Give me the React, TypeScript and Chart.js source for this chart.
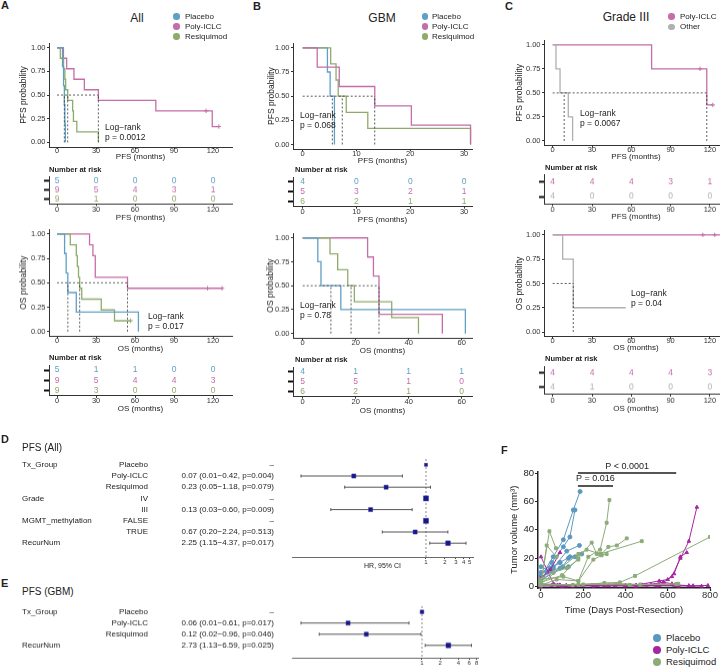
import React, { useEffect, useRef, useMemo } from "react";
import { Chart, registerables } from "chart.js";

Chart.register(...registerables);

const FONT = "'Liberation Sans', Arial, Helvetica, sans-serif";
const INK = "#222222";
const AXIS = "#333333";
const BLUE = "#5e9fc6";
const PINK = "#c46ea8";
const GREEN = "#8fab6b";
const GREY = "#b0b0b0";
const F_BLUE = "#5b98bf";
const F_PURPLE = "#a626a1";
const F_GREEN = "#8cab78";
const NAVY = "#17178a";

// ---------------- DATA: Kaplan–Meier ----------------
const GROUPS3 = ["Placebo", "Poly-ICLC", "Resiquimod"];
const GROUPS_C = ["Poly-ICLC", "Other"];
const TICKS_120 = [0, 30, 60, 90, 120];
const TICKS_B_PFS = [0, 10, 20, 30];
const TICKS_B_OS = [0, 20, 40, 60];
const PROB_TICKS = [0, 0.25, 0.5, 0.75, 1];

// A – PFS (All)
const A_PFS_PLA_T = [0, 4.2, 5.0, 5.6, 6.0, 6.4];
const A_PFS_PLA_S = [1, 0.8, 0.6, 0.4, 0.2, 0];
const A_PFS_POLY_T = [0, 4.9, 7.4, 13, 21, 31.8, 76, 119.4];
const A_PFS_POLY_S = [1, 0.889, 0.778, 0.667, 0.556, 0.444, 0.333, 0.167];
const A_PFS_POLY_CENS = [114.6, 124.5];
const A_PFS_RESI_T = [0, 2.5, 5, 6, 6.6, 8.2, 12, 12.6, 15.2, 31.8];
const A_PFS_RESI_S = [1, 0.889, 0.778, 0.667, 0.556, 0.444, 0.333, 0.222, 0.111, 0];
const A_PFS_MEDIANS = [5.6, 31.8, 8.2];
const A_PFS_RISK = [[5, 0, 0, 0, 0], [9, 5, 4, 3, 1], [9, 1, 0, 0, 0]];

// A – OS (All)
const A_OS_PLA_T = [0, 5.8, 7.0, 8.3, 14.8, 62.6];
const A_OS_PLA_S = [1, 0.8, 0.6, 0.4, 0.2, 0];
const A_OS_POLY_T = [0, 25, 27.6, 29.4, 54.2];
const A_OS_POLY_S = [1, 0.889, 0.778, 0.556, 0.444];
const A_OS_POLY_CENS = [115.8, 127];
const A_OS_RESI_T = [0, 10.2, 14.8, 15.6, 16.5, 17.4, 19, 34, 44.2];
const A_OS_RESI_S = [1, 0.889, 0.778, 0.667, 0.556, 0.444, 0.333, 0.222, 0.111];
const A_OS_RESI_CENS = [56.6];
const A_OS_MEDIANS = [8.3, 54.2, 17.4];
const A_OS_RISK = [[5, 1, 1, 0, 0], [9, 5, 4, 4, 3], [9, 3, 0, 0, 0]];

// B – PFS (GBM)
const B_PFS_PLA_T = [0, 4.6, 5.1, 5.9];
const B_PFS_PLA_S = [1, 0.75, 0.5, 0];
const B_PFS_POLY_T = [0, 2.7, 6.8, 13.4, 20.2, 31.2];
const B_PFS_POLY_S = [1, 0.8, 0.6, 0.4, 0.2, 0];
const B_PFS_RESI_T = [0, 5.2, 6.2, 6.6, 8.1, 12.1, 31.2];
const B_PFS_RESI_S = [1, 0.833, 0.667, 0.5, 0.333, 0.167, 0];
const B_PFS_MEDIANS = [5.5, 13.4, 7.35];
const B_PFS_RISK = [[4, 0, 0, 0], [5, 3, 2, 1], [6, 2, 1, 1]];

// B – OS (GBM)
const B_OS_PLA_T = [0, 5.7, 6.9, 14.4, 61.4];
const B_OS_PLA_S = [1, 0.75, 0.5, 0.25, 0];
const B_OS_POLY_T = [0, 24.5, 26.7, 28.8, 52.7];
const B_OS_POLY_S = [1, 0.8, 0.6, 0.2, 0];
const B_OS_RESI_T = [0, 10.3, 13.2, 17, 19.5, 33.6, 43.7];
const B_OS_RESI_S = [1, 0.833, 0.667, 0.5, 0.333, 0.167, 0];
const B_OS_MEDIANS = [10.65, 28.8, 18.25];
const B_OS_RISK = [[4, 1, 1, 1], [5, 5, 1, 0], [6, 2, 1, 0]];

// C – PFS (Grade III)
const C_PFS_POLY_T = [0, 75.5, 117.6];
const C_PFS_POLY_S = [1, 0.75, 0.375];
const C_PFS_POLY_CENS = [112.5, 122.2];
const C_PFS_OTHER_T = [0, 2.5, 5.6, 11.9, 15.2];
const C_PFS_OTHER_S = [1, 0.75, 0.5, 0.25, 0];
const C_PFS_MEDIANS = [117.6, 8.75];
const C_PFS_RISK = [[4, 4, 4, 3, 1], [4, 0, 0, 0, 0]];

// C – OS (Grade III)
const C_OS_POLY_T = [0];
const C_OS_POLY_S = [1];
const C_OS_POLY_CENS = [114.6, 123.7];
const C_OS_POLY_END = 131;
const C_OS_OTHER_T = [0, 7.6, 15.7];
const C_OS_OTHER_S = [1, 0.75, 0.25];
const C_OS_OTHER_END = 55.7;
const C_OS_MEDIANS = [15.7];
const C_OS_RISK = [[4, 4, 4, 4, 3], [4, 1, 0, 0, 0]];

// ---------------- DATA: forest plots ----------------
const D_VARS = ["Tx_Group", "", "", "Grade", "", "MGMT_methylation", "", "RecurNum"];
const D_LEVELS = ["Placebo", "Poly-ICLC", "Resiquimod", "IV", "III", "FALSE", "TRUE", ""];
const D_HR = [1, 0.07, 0.23, 1, 0.13, 1, 0.67, 2.25];
const D_LO = [null, 0.01, 0.05, null, 0.03, null, 0.2, 1.15];
const D_HI = [null, 0.42, 1.18, null, 0.6, null, 2.24, 4.37];
const D_P = [null, "0.004", "0.079", null, "0.009", null, "0.513", "0.017"];
const D_TICKS = [1, 2, 3, 4, 5];

const E_VARS = ["Tx_Group", "", "", "RecurNum"];
const E_LEVELS = ["Placebo", "Poly-ICLC", "Resiquimod", ""];
const E_HR = [1, 0.06, 0.12, 2.73];
const E_LO = [null, 0.01, 0.02, 1.13];
const E_HI = [null, 0.61, 0.96, 6.59];
const E_P = [null, "0.017", "0.046", "0.025"];
const E_TICKS = [1, 2, 4, 6, 8];

// ---------------- DATA: tumour volume (F) ----------------
const F_PLACEBO_DAYS = [
  [0, 58, 106, 153, 185],
  [0, 51, 106, 137, 161],
  [0, 58, 122, 182],
  [0, 43, 90, 137, 193],
  [0, 58, 103, 130, 161],
  [0, 43, 90, 130],
  [0, 27, 58, 90],
];
const F_PLACEBO_VOL = [
  [7, 21, 33, 54, 67],
  [8, 17, 28, 35, 54],
  [10, 13, 25, 29],
  [5, 13, 17, 21, 23],
  [4, 10, 14, 20, 21],
  [14, 11, 13, 14],
  [2, 10, 14, 17],
];
const F_POLY_DAYS = [
  [0, 120, 260, 400, 520, 580, 620, 660, 700, 738],
  [0, 150, 300, 450, 560, 600, 630, 660, 690],
  [0, 100, 250, 400, 500, 580, 620, 650],
  [0, 45, 90],
  [0, 60, 120, 200],
  [0, 80, 160, 240, 320, 400, 480, 560, 640, 720, 790],
  [0, 90, 180, 270, 360, 450, 540, 630, 700],
  [0, 50, 150, 250, 350, 450, 550, 650, 760],
];
const F_POLY_VOL = [
  [1, 0.5, 0.8, 1, 1.5, 3, 7, 20, 32, 56],
  [0.5, 1, 0.6, 1, 4, 5, 9, 21, 24],
  [0.5, 0.3, 0.8, 0.5, 1, 3, 2, 1],
  [6, 12, 24],
  [21, 2, 1, 1],
  [0.5, 1, 0.6, 1.1, 0.7, 0.9, 1.2, 0.8, 1, 0.6, 0.8],
  [1.5, 1.2, 1.4, 1, 1.3, 0.9, 1.1, 1, 0.7],
  [2, 1, 0.5, 0.4, 0.6, 0.3, 0.5, 0.4, 0.3],
];
const F_RESI_DAYS = [
  [0, 40, 71],
  [0, 27, 74],
  [0, 74, 177, 224, 280, 311, 324],
  [0, 100, 177, 240, 264, 287, 319, 359, 406],
  [0, 177, 216, 280, 477],
  [0, 106, 177, 248, 287, 311],
  [0, 177, 374, 445, 800],
  [0, 200, 420, 640],
  [0, 150, 300, 470, 650],
  [0, 58, 122, 177],
];
const F_RESI_VOL = [
  [2, 39, 27],
  [1, 29, 21],
  [1, 5, 4, 21, 26, 45, 61],
  [3, 8, 20, 31, 23, 23, 28, 29, 34],
  [2, 23, 26, 23, 32],
  [5, 7, 4, 19, 22, 23],
  [1, 1.5, 3, 7.5, 35],
  [1, 1.5, 1.2, 1.8],
  [2, 1, 2.5, 1.5, 2],
  [5, 10, 13, 19],
];
const F_X_TICKS = [0, 200, 400, 600, 800];
const F_Y_TICKS = [0, 20, 40, 60, 80];
const SIG_LABELS = ["P < 0.0001", "P = 0.016"];
const SIG_X0 = [175, 175];
const SIG_X1 = [640, 341];
const SIG_Y = [80, 71];

// ---------------- helpers ----------------
type Curve = { t: number[]; s: number[]; color: string; cens?: number[]; end?: number };
type Geo = { x: number; y: number; w: number; h: number };

function survAt(c: Curve, time: number) {
  let v = 1;
  for (let i = 0; i < c.t.length; i++) if (c.t[i] <= time) v = c.s[i];
  return v;
}

function kmDatasets(curves: Curve[], medians: number[]) {
  const ds: any[] = [];
  const maxMed = Math.max(...medians);
  const dash = { borderColor: "#333", borderWidth: 0.8, borderDash: [2, 2], pointRadius: 0, fill: false };
  ds.push({ ...dash, data: [{ x: 0, y: 0.5 }, { x: maxMed, y: 0.5 }] });
  medians.forEach((m) => ds.push({ ...dash, data: [{ x: m, y: 0 }, { x: m, y: 0.5 }] }));
  curves.forEach((c) => {
    const pts = c.t.map((t, i) => ({ x: t, y: c.s[i] }));
    const end = c.end !== undefined ? c.end : c.cens && c.cens.length ? Math.max(...c.cens) : undefined;
    if (end !== undefined) pts.push({ x: end, y: c.s[c.s.length - 1] });
    ds.push({ data: pts, borderColor: c.color, borderWidth: 1.3, pointRadius: 0, stepped: "before", fill: false });
    if (c.cens) {
      ds.push({
        data: c.cens.map((t) => ({ x: t, y: survAt(c, t) })),
        showLine: false,
        pointStyle: "cross",
        pointRadius: 2.2,
        borderColor: c.color,
        borderWidth: 1,
      });
    }
  });
  return ds;
}

function xScaleOpts(min: number, max: number, ticks: number[], height: number, title: string | null, titlePadBottom: number, tickPad: number, fontSize: number, titleSize: number, type = "linear") {
  return {
    type,
    min,
    max,
    afterFit: (s: any) => {
      s.height = height;
    },
    afterBuildTicks: (s: any) => {
      s.ticks = ticks.map((v) => ({ value: v }));
    },
    ticks: {
      autoSkip: false,
      maxRotation: 0,
      padding: tickPad,
      color: AXIS,
      font: { size: fontSize, family: FONT, lineHeight: 1 },
      callback: (v: any) => String(v),
    },
    grid: { drawOnChartArea: false, drawTicks: true, tickLength: 2, color: AXIS },
    border: { display: true, color: AXIS, width: 1 },
    title: title
      ? { display: true, text: title, color: INK, font: { size: titleSize, family: FONT, lineHeight: 1 }, padding: { top: 0, bottom: titlePadBottom } }
      : { display: false },
  };
}

function kmChart(cl: number, area: number[], xMin: number, xMax: number, ticks: number[], yTitle: string, xTitle: string, yTitleX: number, xTitleY: number, curves: Curve[], medians: number[]) {
  const ct = area[1] - 8;
  const cb = xTitleY + 6;
  const cr = area[2] + 8;
  const geo: Geo = { x: cl, y: ct, w: cr - cl, h: cb - ct };
  const config = {
    type: "line",
    data: { datasets: kmDatasets(curves, medians) },
    options: {
      animation: false,
      responsive: false,
      devicePixelRatio: 1,
      layout: { padding: { top: area[1] - ct, right: cr - area[2], left: 0, bottom: 0 } },
      plugins: { legend: { display: false }, tooltip: { enabled: false } },
      scales: {
        x: xScaleOpts(xMin, xMax, ticks, cb - area[3], xTitle, 6 - 4, -1.5, 7.5, 8),
        y: {
          type: "linear",
          min: -0.05,
          max: 1.05,
          afterFit: (s: any) => {
            s.width = area[0] - cl;
          },
          afterBuildTicks: (s: any) => {
            s.ticks = PROB_TICKS.map((v) => ({ value: v }));
          },
          ticks: { padding: 1.5, color: AXIS, font: { size: 7.5, family: FONT }, callback: (v: any) => Number(v).toFixed(2) },
          grid: { drawOnChartArea: false, drawTicks: true, tickLength: 2, color: AXIS },
          border: { display: true, color: AXIS, width: 1 },
          title: { display: true, text: yTitle, color: INK, font: { size: 8.5, family: FONT, lineHeight: 1 }, padding: { top: yTitleX - cl - 4.25, bottom: 0 } },
        },
      },
    },
  };
  return { geo, config };
}

const riskTextPlugin = {
  id: "riskText",
  afterDatasetsDraw(chart: any) {
    const ctx = chart.ctx;
    ctx.save();
    ctx.font = `8.5px ${FONT}`;
    ctx.textAlign = "center";
    ctx.textBaseline = "middle";
    chart.data.datasets.forEach((ds: any, di: number) => {
      const meta = chart.getDatasetMeta(di);
      ctx.fillStyle = ds.textColor;
      meta.data.forEach((el: any, i: number) => {
        ctx.fillText(String(ds.data[i].n), el.x, el.y);
      });
    });
    ctx.restore();
  },
};

function riskChart(cl: number, area: number[], xMin: number, xMax: number, ticks: number[], rows: number[][], colors: string[], xTitle: string, xTitleY: number, tickPad: number) {
  const ct = area[1] - 4;
  const cb = xTitleY + 6;
  const cr = area[2] + 8;
  const geo: Geo = { x: cl, y: ct, w: cr - cl, h: cb - ct };
  const n = rows.length;
  const datasets = rows.map((vals, r) => ({
    data: ticks.map((t, i) => ({ x: t, y: r + 1, n: vals[i] })),
    pointRadius: 0,
    showLine: false,
    textColor: colors[r],
  }));
  const config = {
    type: "scatter",
    data: { datasets },
    plugins: [riskTextPlugin],
    options: {
      animation: false,
      responsive: false,
      devicePixelRatio: 1,
      layout: { padding: { top: area[1] - ct, right: cr - area[2], left: 0, bottom: 0 } },
      plugins: { legend: { display: false }, tooltip: { enabled: false } },
      scales: {
        x: xScaleOpts(xMin, xMax, ticks, cb - area[3], xTitle, 2, tickPad, 7.5, 8),
        y: {
          type: "linear",
          min: 0.5,
          max: n + 0.5,
          reverse: true,
          afterFit: (s: any) => {
            s.width = area[0] - cl;
          },
          afterBuildTicks: (s: any) => {
            s.ticks = rows.map((_, i) => ({ value: i + 1 }));
          },
          ticks: { padding: 0, font: { size: 1 }, callback: () => "" },
          grid: { drawOnChartArea: false, drawTicks: true, tickLength: 5, tickWidth: 2, tickColor: "#111", color: "#111" },
          border: { display: true, color: AXIS, width: 1 },
        },
      },
    },
  };
  return { geo, config };
}

function hrText(hr: number, lo: number | null, hi: number | null, p: string | null) {
  if (lo === null || hi === null) return "\u2013";
  return `${hr.toFixed(2)} (${lo.toFixed(2)}\u2212${hi.toFixed(2)}, p=${p})`;
}

function forestChart(cl: number, area: number[], canvasBottom: number, xMin: number, xMax: number, ticks: number[], vars: string[], levels: string[], hr: number[], lo: (number | null)[], hi: (number | null)[], p: (string | null)[], yMin: number, yMax: number, sizes: number[], showTitle: boolean) {
  const ct = area[1] - 6;
  const cr = area[2] + 14;
  const geo: Geo = { x: cl, y: ct, w: cr - cl, h: canvasBottom - ct };
  const plugin = {
    id: "forestExtras",
    beforeDatasetsDraw(chart: any) {
      const ctx = chart.ctx;
      const xs = chart.scales.x;
      const ys = chart.scales.y;
      const ca = chart.chartArea;
      ctx.save();
      // reference line at HR = 1
      ctx.strokeStyle = "#8a8a8a";
      ctx.lineWidth = 1;
      ctx.setLineDash([2, 2]);
      const x1 = xs.getPixelForValue(1);
      ctx.beginPath();
      ctx.moveTo(x1, ca.top);
      ctx.lineTo(x1, ca.bottom);
      ctx.stroke();
      ctx.setLineDash([]);
      // CI lines
      ctx.strokeStyle = "#555";
      ctx.lineWidth = 1;
      hr.forEach((_, i) => {
        const l = lo[i];
        const h = hi[i];
        if (l === null || h === null) return;
        const y = ys.getPixelForValue(i);
        const a = xs.getPixelForValue(l);
        const b = xs.getPixelForValue(h);
        ctx.beginPath();
        ctx.moveTo(a, y);
        ctx.lineTo(b, y);
        ctx.moveTo(a, y - 1.5);
        ctx.lineTo(a, y + 1.5);
        ctx.moveTo(b, y - 1.5);
        ctx.lineTo(b, y + 1.5);
        ctx.stroke();
      });
      // text columns
      ctx.fillStyle = INK;
      ctx.font = `8px ${FONT}`;
      ctx.textBaseline = "middle";
      hr.forEach((v, i) => {
        const y = ys.getPixelForValue(i);
        ctx.textAlign = "left";
        ctx.fillText(vars[i], 22 - cl, y);
        ctx.textAlign = "right";
        ctx.fillText(levels[i], 148 - cl, y);
        ctx.fillText(hrText(v, lo[i], hi[i], p[i]), 274 - cl, y);
      });
      ctx.restore();
    },
  };
  const config = {
    type: "scatter",
    data: {
      datasets: [
        {
          data: hr.map((v, i) => ({ x: v, y: i })),
          pointStyle: "rect",
          pointRadius: sizes,
          backgroundColor: NAVY,
          borderColor: "#3a3aa0",
          borderWidth: 0.5,
        },
      ],
    },
    plugins: [plugin],
    options: {
      animation: false,
      responsive: false,
      devicePixelRatio: 1,
      layout: { padding: { top: area[1] - ct, right: cr - area[2], left: area[0] - cl, bottom: 0 } },
      plugins: { legend: { display: false }, tooltip: { enabled: false } },
      scales: {
        x: {
          ...xScaleOpts(xMin, xMax, ticks, canvasBottom - area[3], showTitle ? "HR, 95% CI" : null, canvasBottom - 566 - 3.5, 0, 6, 7, "logarithmic"),
          border: { display: true, color: "#444", width: 0.8 },
          grid: { drawOnChartArea: false, drawTicks: true, tickLength: 2, color: "#444" },
        },
        y: { type: "linear", display: false, reverse: true, min: yMin, max: yMax },
      },
    },
  };
  return { geo, config };
}

function fSeries(days: number[][], vols: number[][], color: string, style: string) {
  return days.map((d, k) => ({
    data: d.map((x, i) => ({ x, y: vols[k][i] })),
    borderColor: color,
    backgroundColor: color,
    pointStyle: style,
    pointRadius: 2,
    borderWidth: 1,
    showLine: true,
  }));
}

function fChart() {
  const cl = 500;
  const ct = 450;
  const cr = 720;
  const cb = 620;
  const area = [538, 471.7, 710, 588];
  const geo: Geo = { x: cl, y: ct, w: cr - cl, h: cb - ct };
  const sigPlugin = {
    id: "sig",
    afterDraw(chart: any) {
      const ctx = chart.ctx;
      const xs = chart.scales.x;
      const ys = chart.scales.y;
      ctx.save();
      SIG_LABELS.forEach((lab, i) => {
        const a = xs.getPixelForValue(SIG_X0[i]);
        const b = xs.getPixelForValue(SIG_X1[i]);
        const y = ys.getPixelForValue(SIG_Y[i]);
        ctx.strokeStyle = "#555";
        ctx.lineWidth = 2;
        ctx.beginPath();
        ctx.moveTo(a, y);
        ctx.lineTo(b, y);
        ctx.stroke();
        ctx.fillStyle = INK;
        ctx.font = `9px ${FONT}`;
        ctx.textAlign = "center";
        ctx.textBaseline = "middle";
        ctx.fillText(lab, (a + b) / 2, y - 7);
      });
      ctx.restore();
    },
  };
  const config = {
    type: "scatter",
    data: {
      datasets: [
        ...fSeries(F_RESI_DAYS, F_RESI_VOL, F_GREEN, "rect"),
        ...fSeries(F_POLY_DAYS, F_POLY_VOL, F_PURPLE, "triangle"),
        ...fSeries(F_PLACEBO_DAYS, F_PLACEBO_VOL, F_BLUE, "circle"),
      ],
    },
    plugins: [sigPlugin],
    options: {
      animation: false,
      responsive: false,
      devicePixelRatio: 1,
      layout: { padding: { top: area[1] - ct, right: cr - area[2], left: 0, bottom: 0 } },
      plugins: { legend: { display: false }, tooltip: { enabled: false } },
      scales: {
        x: {
          ...xScaleOpts(-14, 800, F_X_TICKS, cb - area[3], "Time (Days Post-Resection)", 5.25, 0, 9.5, 9.5),
          grid: { drawOnChartArea: false, drawTicks: true, tickLength: 3, tickWidth: 1.2, color: "#222" },
          border: { display: true, color: "#222", width: 1.5 },
        },
        y: {
          type: "linear",
          min: -1,
          max: 81,
          afterFit: (s: any) => {
            s.width = area[0] - cl;
          },
          afterBuildTicks: (s: any) => {
            s.ticks = F_Y_TICKS.map((v) => ({ value: v }));
          },
          ticks: { padding: 1, color: "#222", font: { size: 9.5, family: FONT }, callback: (v: any) => String(v) },
          grid: { drawOnChartArea: false, drawTicks: true, tickLength: 3, tickWidth: 1.2, color: "#222" },
          border: { display: true, color: "#222", width: 1.5 },
          title: { display: true, text: "Tumor volume (mm\u00b3)", color: INK, font: { size: 9.5, family: FONT, lineHeight: 1 }, padding: { top: 9.25, bottom: 0 } },
        },
      },
    },
  };
  return { geo, config };
}

function buildAll() {
  const charts: { geo: Geo; config: any }[] = [];
  // ---- A ----
  charts.push(
    kmChart(0, [49, 42.6, 232, 147.1], -6.2, 134.6, TICKS_120, "PFS probability", "PFS (months)", 24, 157, [
      { t: A_PFS_PLA_T, s: A_PFS_PLA_S, color: BLUE },
      { t: A_PFS_RESI_T, s: A_PFS_RESI_S, color: GREEN },
      { t: A_PFS_POLY_T, s: A_PFS_POLY_S, color: PINK, cens: A_PFS_POLY_CENS },
    ], A_PFS_MEDIANS)
  );
  charts.push(riskChart(0, [49, 176.3, 232, 204.3], -6.2, 134.6, TICKS_120, A_PFS_RISK, [BLUE, PINK, GREEN], "PFS (months)", 218, 0));
  charts.push(
    kmChart(0, [49, 229.4, 232, 336.6], -6.2, 134.6, TICKS_120, "OS probability", "OS (months)", 24, 349, [
      { t: A_OS_PLA_T, s: A_OS_PLA_S, color: BLUE },
      { t: A_OS_RESI_T, s: A_OS_RESI_S, color: GREEN, cens: A_OS_RESI_CENS },
      { t: A_OS_POLY_T, s: A_OS_POLY_S, color: PINK, cens: A_OS_POLY_CENS },
    ], A_OS_MEDIANS)
  );
  charts.push(riskChart(0, [49, 364.8, 232, 395.9], -6.2, 134.6, TICKS_120, A_OS_RISK, [BLUE, PINK, GREEN], "OS (months)", 409, -1));
  // ---- B ----
  charts.push(
    kmChart(240, [293, 42.5, 472, 148.8], -1.8, 31.47, TICKS_B_PFS, "PFS probability", "PFS (months)", 271.7, 160.5, [
      { t: B_PFS_POLY_T, s: B_PFS_POLY_S, color: PINK },
      { t: B_PFS_RESI_T, s: B_PFS_RESI_S, color: GREEN },
      { t: B_PFS_PLA_T, s: B_PFS_PLA_S, color: BLUE },
    ], B_PFS_MEDIANS)
  );
  charts.push(riskChart(240, [293, 176.7, 472, 206.7], -1.8, 31.47, TICKS_B_PFS, B_PFS_RISK, [BLUE, PINK, GREEN], "PFS (months)", 220, -0.5));
  charts.push(
    kmChart(240, [293, 232.9, 472, 338.1], -3.66, 63.9, TICKS_B_OS, "OS probability", "OS (months)", 270.7, 350.7, [
      { t: B_OS_PLA_T, s: B_OS_PLA_S, color: BLUE },
      { t: B_OS_RESI_T, s: B_OS_RESI_S, color: GREEN },
      { t: B_OS_POLY_T, s: B_OS_POLY_S, color: PINK },
    ], B_OS_MEDIANS)
  );
  charts.push(riskChart(240, [293, 366.7, 472, 396.7], -3.66, 63.9, TICKS_B_OS, B_OS_RISK, [BLUE, PINK, GREEN], "OS (months)", 411, -0.5));
  // ---- C ----
  charts.push(
    kmChart(480, [544, 39.5, 728, 145.5], -6.64, 133.8, TICKS_120, "PFS probability", "PFS (months)", 520, 156.7, [
      { t: C_PFS_OTHER_T, s: C_PFS_OTHER_S, color: GREY },
      { t: C_PFS_POLY_T, s: C_PFS_POLY_S, color: PINK, cens: C_PFS_POLY_CENS },
    ], C_PFS_MEDIANS)
  );
  charts.push(riskChart(480, [544, 174.2, 728, 204.2], -6.64, 133.8, TICKS_120, C_PFS_RISK, [PINK, GREY], "PFS (months)", 216.7, 0));
  charts.push(
    kmChart(480, [544, 230.1, 728, 337.2], -6.64, 133.8, TICKS_120, "OS probability", "OS (months)", 519.3, 348.3, [
      { t: C_OS_OTHER_T, s: C_OS_OTHER_S, color: GREY, end: C_OS_OTHER_END },
      { t: C_OS_POLY_T, s: C_OS_POLY_S, color: PINK, cens: C_OS_POLY_CENS, end: C_OS_POLY_END },
    ], C_OS_MEDIANS)
  );
  charts.push(riskChart(480, [544, 366.1, 728, 394.9], -6.64, 133.8, TICKS_120, C_OS_RISK, [PINK, GREY], "OS (months)", 409, 0));
  // ---- D / E ----
  charts.push(forestChart(0, [292, 459, 473, 557], 575, 0.00718, 5.65, D_TICKS, D_VARS, D_LEVELS, D_HR, D_LO, D_HI, D_P, -0.518, 8.232, [2.2, 2.9, 2.9, 3.6, 2.9, 3.6, 2.9, 3.3], true));
  charts.push(forestChart(0, [292, 606.2, 478, 658], 680, 0.0071, 8.43, E_TICKS, E_VARS, E_LEVELS, E_HR, E_LO, E_HI, E_P, -0.518, 4.107, [2.6, 2.9, 2.9, 3.4], false));
  // ---- F ----
  charts.push(fChart());
  return charts;
}

function ChartCanvas({ geo, config }: { geo: Geo; config: any }) {
  const ref = useRef<HTMLCanvasElement | null>(null);
  useEffect(() => {
    if (!ref.current) return;
    const chart = new Chart(ref.current, config);
    return () => chart.destroy();
  }, [config]);
  return (
    <canvas
      ref={ref}
      width={geo.w}
      height={geo.h}
      style={{ position: "absolute", left: geo.x, top: geo.y, width: geo.w, height: geo.h }}
    />
  );
}

function Txt({ x, y, s = 8, text, align = "left", bold = false, color = INK }: { x: number; y: number; s?: number; text: string; align?: string; bold?: boolean; color?: string }) {
  const style: React.CSSProperties = {
    position: "absolute",
    left: x,
    top: y - s / 2,
    fontSize: s,
    lineHeight: `${s}px`,
    fontFamily: FONT,
    color,
    whiteSpace: "nowrap",
    fontWeight: bold ? 700 : 400,
  };
  if (align === "center") style.transform = "translateX(-50%)";
  if (align === "right") style.transform = "translateX(-100%)";
  return <div style={style}>{text}</div>;
}

function Dot({ x, y, r, color }: { x: number; y: number; r: number; color: string }) {
  return <div style={{ position: "absolute", left: x - r, top: y - r, width: 2 * r, height: 2 * r, borderRadius: "50%", background: color }} />;
}

export default function App() {
  const charts = useMemo(() => buildAll(), []);
  const kmColors3 = [BLUE, PINK, GREEN];
  const legend3 = (dx: number, tx: number) =>
    GROUPS3.map((g, i) => (
      <React.Fragment key={g + dx}>
        <Dot x={dx} y={16.7 + i * 10} r={3.3} color={kmColors3[i]} />
        <Txt x={tx} y={16.7 + i * 10} s={8} text={g} />
      </React.Fragment>
    ));
  return (
    <div style={{ position: "absolute", left: 0, top: 0, width: 720, height: 672, overflow: "hidden", background: "#fff" }}>
      {charts.map((c, i) => (
        <ChartCanvas key={i} geo={c.geo} config={c.config} />
      ))}
      {/* panel letters */}
      <Txt x={1} y={5} s={11} bold text="A" />
      <Txt x={253} y={6} s={11} bold text="B" />
      <Txt x={505} y={6} s={11} bold text="C" />
      <Txt x={1} y={439} s={11} bold text="D" />
      <Txt x={1} y={583} s={11} bold text="E" />
      <Txt x={501} y={450} s={11} bold text="F" />
      {/* titles */}
      <Txt x={137} y={18} s={12} align="center" text="All" />
      <Txt x={382} y={18} s={12} align="center" text="GBM" />
      <Txt x={626} y={17} s={12} align="center" text="Grade III" />
      {legend3(176.7, 185)}
      {legend3(425, 432)}
      <Dot x={671.7} y={16.7} r={3.3} color={PINK} />
      <Txt x={680} y={16.7} s={8} text={GROUPS_C[0]} />
      <Dot x={671.7} y={27} r={3.3} color={GREY} />
      <Txt x={680} y={27} s={8} text={GROUPS_C[1]} />
      {/* log-rank */}
      <Txt x={105} y={127} s={8.5} text={"Log\u2212rank"} />
      <Txt x={105} y={137} s={8.5} text="p = 0.0012" />
      <Txt x={148} y={316} s={8.5} text={"Log\u2212rank"} />
      <Txt x={148} y={326} s={8.5} text="p = 0.017" />
      <Txt x={300} y={115} s={8.5} text={"Log\u2212rank"} />
      <Txt x={300} y={125} s={8.5} text="p = 0.068" />
      <Txt x={300} y={305} s={8.5} text={"Log\u2212rank"} />
      <Txt x={300} y={315} s={8.5} text="p = 0.78" />
      <Txt x={580} y={113} s={8.5} text={"Log\u2212rank"} />
      <Txt x={580} y={123} s={8.5} text="p = 0.0067" />
      <Txt x={631} y={293} s={8.5} text={"Log\u2212rank"} />
      <Txt x={631} y={303} s={8.5} text="p = 0.04" />
      {/* number at risk */}
      <Txt x={49} y={170} s={7.5} bold text="Number at risk" />
      <Txt x={49} y={358} s={7.5} bold text="Number at risk" />
      <Txt x={295} y={170} s={7.5} bold text="Number at risk" />
      <Txt x={295} y={360} s={7.5} bold text="Number at risk" />
      <Txt x={545} y={168} s={7.5} bold text="Number at risk" />
      <Txt x={545} y={359} s={7.5} bold text="Number at risk" />
      {/* forest titles */}
      <Txt x={22} y={448} s={10} text="PFS (All)" />
      <Txt x={22} y={592} s={10} text="PFS (GBM)" />
      {/* F legend */}
      <Dot x={657} y={638} r={4.3} color={F_BLUE} />
      <Txt x={666} y={638} s={9.5} text="Placebo" />
      <Dot x={657} y={650} r={4.3} color={F_PURPLE} />
      <Txt x={666} y={650} s={9.5} text="Poly-ICLC" />
      <Dot x={657} y={662} r={4.3} color={F_GREEN} />
      <Txt x={666} y={662} s={9.5} text="Resiquimod" />
    </div>
  );
}
